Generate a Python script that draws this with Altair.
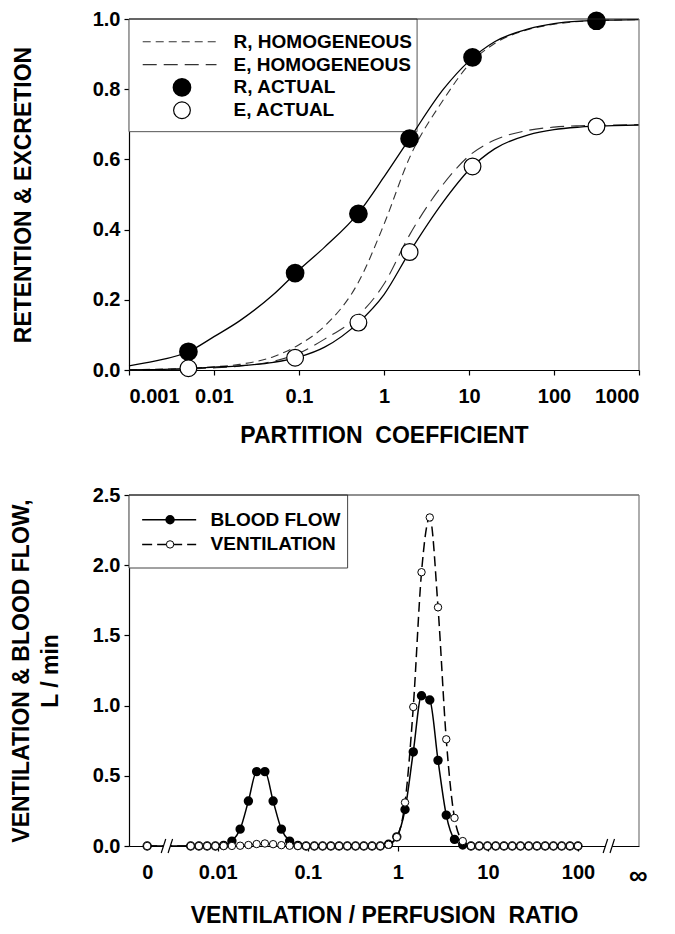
import numpy as np
import pandas as pd
import altair as alt

FONT = "Liberation Sans"

# ---------------- Top panel: retention & excretion vs partition coefficient ----------------
partition_grid = [0.001, 0.002, 0.005, 0.01, 0.02, 0.05, 0.1, 0.2, 0.5, 1, 2, 5,
                  10, 20, 50, 100, 200, 500, 1000]
r_actual_curve = [0.012, 0.025, 0.052, 0.095, 0.14, 0.215, 0.285, 0.35, 0.447, 0.55,
                  0.659, 0.80, 0.88, 0.935, 0.972, 0.987, 0.994, 0.997, 0.998]
e_actual_curve = [0.0, 0.001, 0.004, 0.008, 0.012, 0.022, 0.037, 0.065, 0.135, 0.215,
                  0.336, 0.48, 0.57, 0.63, 0.67, 0.685, 0.692, 0.696, 0.698]
r_homog_curve = [0.001, 0.002, 0.005, 0.009, 0.016, 0.038, 0.072, 0.125, 0.25, 0.415,
                 0.605, 0.77, 0.87, 0.93, 0.97, 0.985, 0.993, 0.997, 0.998]
e_homog_curve = [0.0, 0.001, 0.003, 0.006, 0.011, 0.025, 0.048, 0.088, 0.155, 0.245,
                 0.385, 0.53, 0.61, 0.655, 0.683, 0.692, 0.696, 0.698, 0.699]
gas_partition = [0.005, 0.09, 0.5, 2.0, 11.0, 316.0]
r_actual_pts = [0.052, 0.276, 0.445, 0.659, 0.891, 0.995]
e_actual_pts = [0.005, 0.035, 0.135, 0.336, 0.58, 0.694]
top_legend_labels = ["R, HOMOGENEOUS", "E, HOMOGENEOUS", "R, ACTUAL", "E, ACTUAL"]

# ---------------- Bottom panel: V/Q distribution ----------------
vq_ratio = [0, 0.005, 0.00617, 0.00762, 0.00941, 0.01162, 0.01435, 0.01772, 0.02188,
            0.02701, 0.03335, 0.04118, 0.05084, 0.06277, 0.0775, 0.0957, 0.1182, 0.1459,
            0.1801, 0.2224, 0.2746, 0.3391, 0.4186, 0.5169, 0.6382, 0.788, 0.9729, 1.201,
            1.483, 1.831, 2.261, 2.792, 3.447, 4.256, 5.255, 6.488, 8.01, 9.89, 12.21,
            15.08, 18.62, 22.99, 28.38, 35.04, 43.27, 53.42, 65.96, 81.44, 100.0]
blood_flow = [0,
              0, 0, 0, 0, 0.004, 0.035, 0.12, 0.32, 0.53, 0.53, 0.32, 0.12, 0.035, 0.004,
              0, 0, 0, 0, 0, 0, 0, 0, 0, 0,
              0.012, 0.065, 0.26, 0.67, 1.07, 1.04, 0.61, 0.22, 0.047, 0.007,
              0, 0, 0, 0, 0, 0, 0, 0, 0, 0, 0, 0, 0, 0]
ventilation = [0,
               0, 0, 0, 0, 0, 0.0005, 0.002, 0.007, 0.014, 0.018, 0.013, 0.006, 0.002, 0.0,
               0, 0, 0, 0, 0, 0, 0, 0, 0, 0,
               0.009, 0.063, 0.31, 0.99, 1.95, 2.34, 1.70, 0.76, 0.20, 0.035,
               0, 0, 0, 0, 0, 0, 0, 0, 0, 0, 0, 0, 0, 0]
bottom_legend_labels = ["BLOOD FLOW", "VENTILATION"]

W = 510
H_TOP = 351
H_BOT = 351
LABEL_SIZE = 20
TITLE_SIZE = 23
LEGEND_SIZE = 19

# ======================= TOP PANEL =======================
curve_df = pd.DataFrame({"pc": partition_grid, "r_act": r_actual_curve, "e_act": e_actual_curve,
                         "r_hom": r_homog_curve, "e_hom": e_homog_curve})
pts_df = pd.DataFrame({"pc": gas_partition, "r": r_actual_pts, "e": e_actual_pts})

xs_top = alt.Scale(type="log", domain=[0.001, 1000], nice=False)
ys_top = alt.Scale(domain=[0, 1], nice=False, zero=False)
x_top_axis = alt.Axis(values=[0.001, 0.01, 0.1, 1, 10, 100, 1000], format="~g",
                      title="PARTITION\u00a0\u00a0COEFFICIENT", labelPadding=11, titlePadding=18)
y_top_axis = alt.Axis(values=[0, 0.2, 0.4, 0.6, 0.8, 1.0], format=".1f",
                      title="RETENTION & EXCRETION", labelPadding=4, titlePadding=57)


def tx(field):
    return alt.X(field, type="quantitative", scale=xs_top, axis=x_top_axis)


def ty(field):
    return alt.Y(field, type="quantitative", scale=ys_top, axis=y_top_axis)


legend_top_box = alt.Chart(pd.DataFrame({"a": [0.001], "b": [2.45], "c": [0.679], "d": [1.0]})).mark_rect(
    fill="white", stroke="#555", strokeWidth=1).encode(x=tx("a"), x2="b", y=ty("c"), y2="d")

line_r_act = alt.Chart(curve_df).mark_line(color="black", strokeWidth=1.3, interpolate="monotone").encode(
    x=tx("pc"), y=ty("r_act"))
line_e_act = alt.Chart(curve_df).mark_line(color="black", strokeWidth=1.3, interpolate="monotone").encode(
    x=tx("pc"), y=ty("e_act"))
line_r_hom = alt.Chart(curve_df).mark_line(color="#333", strokeWidth=1.1, strokeDash=[8, 5],
                                           interpolate="monotone").encode(x=tx("pc"), y=ty("r_hom"))
line_e_hom = alt.Chart(curve_df).mark_line(color="#333", strokeWidth=1.1, strokeDash=[14, 7],
                                           interpolate="monotone").encode(x=tx("pc"), y=ty("e_hom"))
pts_r = alt.Chart(pts_df).mark_point(shape="circle", filled=True, fill="black", stroke="black",
                                     size=280, opacity=1).encode(x=tx("pc"), y=ty("r"))
pts_e = alt.Chart(pts_df).mark_point(shape="circle", filled=True, fill="white", stroke="black",
                                     strokeWidth=1.2, size=280, opacity=1).encode(x=tx("pc"), y=ty("e"))

top_rows = [0.935, 0.87, 0.805, 0.74]
leg_line_df = pd.DataFrame({"a": [0.00145], "b": [0.0107]})
leg_r_hom = alt.Chart(leg_line_df.assign(y=top_rows[0])).mark_rule(
    color="#333", strokeWidth=1.1, strokeDash=[8, 5]).encode(x=tx("a"), x2="b", y=ty("y"))
leg_e_hom = alt.Chart(leg_line_df.assign(y=top_rows[1])).mark_rule(
    color="#333", strokeWidth=1.1, strokeDash=[14, 7]).encode(x=tx("a"), x2="b", y=ty("y"))
leg_r_sym = alt.Chart(pd.DataFrame({"x": [0.0042], "y": [top_rows[2]]})).mark_point(
    shape="circle", filled=True, fill="black", stroke="black", size=280, opacity=1).encode(x=tx("x"), y=ty("y"))
leg_e_sym = alt.Chart(pd.DataFrame({"x": [0.0042], "y": [top_rows[3]]})).mark_point(
    shape="circle", filled=True, fill="white", stroke="black", strokeWidth=1.2, size=280, opacity=1).encode(
    x=tx("x"), y=ty("y"))
leg_top_text = alt.Chart(pd.DataFrame({"x": [0.017] * 4, "y": top_rows, "t": top_legend_labels})).mark_text(
    align="left", baseline="middle", font=FONT, fontWeight="bold", fontSize=LEGEND_SIZE, color="black").encode(
    x=tx("x"), y=ty("y"), text="t:N")

top_border = alt.Chart(pd.DataFrame({"k": [0]})).mark_rule(color="#222", strokeWidth=1.2).encode(
    x=alt.value(0), x2=alt.value(W), y=alt.value(0))
right_border = alt.Chart(pd.DataFrame({"k": [0]})).mark_rule(color="#777", strokeWidth=1.2).encode(
    x=alt.value(W), y=alt.value(0), y2=alt.value(H_TOP))

top_chart = alt.layer(legend_top_box, line_e_hom, line_r_hom, line_e_act, line_r_act, pts_r, pts_e,
                      leg_r_hom, leg_e_hom, leg_r_sym, leg_e_sym, leg_top_text, top_border, right_border
                      ).properties(width=W, height=H_TOP)

# ======================= BOTTOM PANEL =======================
ZERO_POS = -2.784
INF_POS = 2.663
pos = [np.log10(v) if v > 0 else ZERO_POS for v in vq_ratio]
vq_df = pd.DataFrame({"pos": pos, "q": blood_flow, "v": ventilation})

xs_bot = alt.Scale(domain=[-2.986, 2.678], nice=False, zero=False)
ys_bot = alt.Scale(domain=[0, 2.5], nice=False, zero=False)
label_expr = ("datum.value < -2.5 ? '0' : datum.value > 2.5 ? '\u221e' : datum.value == -2 ? '0.01' : "
              "datum.value == -1 ? '0.1' : datum.value == 0 ? '1' : datum.value == 1 ? '10' : '100'")
x_bot_axis = alt.Axis(values=[ZERO_POS, -2, -1, 0, 1, 2, INF_POS], labelExpr=label_expr,
                      tickOpacity={"condition": {"test": "datum.value < -2.5 || datum.value > 2.5", "value": 0},
                                   "value": 1},
                      labelFontSize={"condition": {"test": "datum.value > 2.5", "value": 26}, "value": LABEL_SIZE},
                      title="VENTILATION / PERFUSION\u00a0\u00a0RATIO", labelPadding=11, titlePadding=16)
y_bot_axis = alt.Axis(values=[0, 0.5, 1.0, 1.5, 2.0, 2.5], format=".1f",
                      title=["VENTILATION & BLOOD FLOW,", "L / min"], titleLineHeight=29,
                      labelPadding=4, titlePadding=30)


def bx(field):
    return alt.X(field, type="quantitative", scale=xs_bot, axis=x_bot_axis)


def by(field):
    return alt.Y(field, type="quantitative", scale=ys_bot, axis=y_bot_axis)


legend_bot_box = alt.Chart(pd.DataFrame({"a": [-2.986], "b": [-0.558], "c": [1.98], "d": [2.5]})).mark_rect(
    fill="white", stroke="#444", strokeWidth=1).encode(x=bx("a"), x2="b", y=by("c"), y2="d")

q_line = alt.Chart(vq_df).mark_line(color="black", strokeWidth=1.5, interpolate="monotone").encode(
    x=bx("pos"), y=by("q"))
v_line = alt.Chart(vq_df).mark_line(color="black", strokeWidth=1.5, strokeDash=[10, 5],
                                    interpolate="monotone").encode(x=bx("pos"), y=by("v"))
q_pts = alt.Chart(vq_df).mark_point(shape="circle", filled=True, fill="black", stroke="black",
                                    size=55, opacity=1).encode(x=bx("pos"), y=by("q"))
v_pts = alt.Chart(vq_df).mark_point(shape="circle", filled=True, fill="white", stroke="black",
                                    strokeWidth=1, size=55, opacity=1).encode(x=bx("pos"), y=by("v"))

# axis breaks
break_centres = [-2.565, 2.343]
gap_df = pd.DataFrame({"a": [b - 0.038 for b in break_centres], "b": [b + 0.038 for b in break_centres],
                       "c": [-0.03] * 2, "d": [0.03] * 2})
gap_rect = alt.Chart(gap_df).mark_rect(fill="white", stroke="white", strokeWidth=0).encode(
    x=bx("a"), x2="b", y=by("c"), y2="d")
slash_centres = [c + o for c in break_centres for o in (-0.038, 0.038)]
slash_df = pd.DataFrame({"a": [c - 0.025 for c in slash_centres], "b": [c + 0.025 for c in slash_centres],
                         "c": [-0.05] * 4, "d": [0.05] * 4})
slashes = alt.Chart(slash_df).mark_rule(color="black", strokeWidth=1.2).encode(
    x=bx("a"), x2="b", y=by("c"), y2="d")

bot_rows = [2.324, 2.148]
leg_q_line = alt.Chart(pd.DataFrame({"a": [-2.84], "b": [-2.24], "y": [bot_rows[0]]})).mark_rule(
    color="black", strokeWidth=1.5).encode(x=bx("a"), x2="b", y=by("y"))
leg_v_line = alt.Chart(pd.DataFrame({"a": [-2.84], "b": [-2.24], "y": [bot_rows[1]]})).mark_rule(
    color="black", strokeWidth=1.5, strokeDash=[10, 5]).encode(x=bx("a"), x2="b", y=by("y"))
leg_q_sym = alt.Chart(pd.DataFrame({"x": [-2.53], "y": [bot_rows[0]]})).mark_point(
    shape="circle", filled=True, fill="black", stroke="black", size=55, opacity=1).encode(x=bx("x"), y=by("y"))
leg_v_sym = alt.Chart(pd.DataFrame({"x": [-2.53], "y": [bot_rows[1]]})).mark_point(
    shape="circle", filled=True, fill="white", stroke="black", strokeWidth=1, size=55, opacity=1).encode(
    x=bx("x"), y=by("y"))
leg_bot_text = alt.Chart(pd.DataFrame({"x": [-2.08] * 2, "y": bot_rows, "t": bottom_legend_labels})).mark_text(
    align="left", baseline="middle", font=FONT, fontWeight="bold", fontSize=LEGEND_SIZE, color="black").encode(
    x=bx("x"), y=by("y"), text="t:N")

top_border_b = alt.Chart(pd.DataFrame({"k": [0]})).mark_rule(color="#222", strokeWidth=1.2).encode(
    x=alt.value(0), x2=alt.value(W), y=alt.value(0))
right_border_b = alt.Chart(pd.DataFrame({"k": [0]})).mark_rule(color="#777", strokeWidth=1.2).encode(
    x=alt.value(W), y=alt.value(0), y2=alt.value(H_BOT))

bottom_chart = alt.layer(legend_bot_box, q_line, v_line, q_pts, v_pts, gap_rect, slashes,
                         leg_q_line, leg_v_line, leg_q_sym, leg_v_sym, leg_bot_text,
                         top_border_b, right_border_b).properties(width=W, height=H_BOT)

chart = alt.vconcat(top_chart, bottom_chart, spacing=38,
                    padding={"left": 2, "top": 0, "right": 5, "bottom": 0}).configure_view(
    strokeWidth=0).configure_axis(
    labelFont=FONT, labelFontWeight="bold", labelFontSize=LABEL_SIZE, labelColor="black",
    titleFont=FONT, titleFontWeight="bold", titleFontSize=TITLE_SIZE, titleColor="black",
    domainColor="black", domainWidth=1.2, tickColor="black", tickWidth=1.2, tickSize=5,
    grid=False, zindex=0)

chart.save("out.html", embed_options={"renderer": "svg", "actions": False})
